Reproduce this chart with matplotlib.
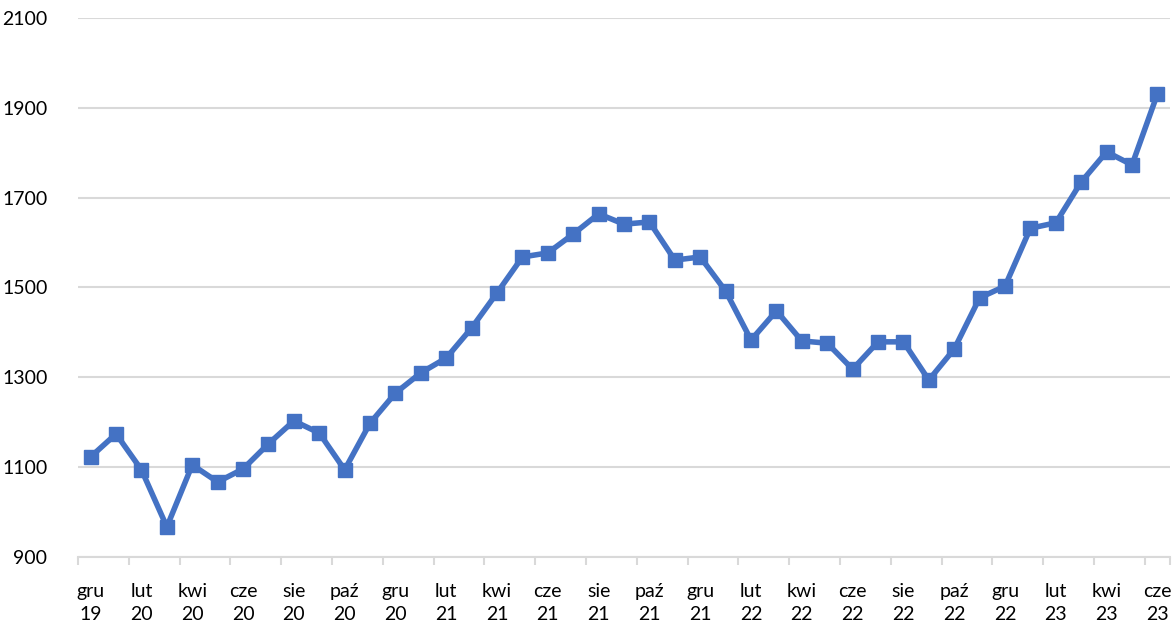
import matplotlib
matplotlib.use('Agg')
import matplotlib.pyplot as plt

# monthly values, gru 19 .. cze 23
values = [1123, 1174, 1094, 967, 1105, 1067, 1096, 1152, 1203, 1176,
          1094, 1198, 1265, 1310, 1343, 1410, 1488, 1568, 1577, 1619,
          1664, 1641, 1646, 1561, 1568, 1492, 1383, 1448, 1381, 1376,
          1318, 1379, 1379, 1294, 1363, 1477, 1503, 1632, 1644, 1735,
          1802, 1773, 1931]
tick_labels = ['gru\n19', 'lut\n20', 'kwi\n20', 'cze\n20', 'sie\n20', 'paź\n20',
               'gru\n20', 'lut\n21', 'kwi\n21', 'cze\n21', 'sie\n21', 'paź\n21',
               'gru\n21', 'lut\n22', 'kwi\n22', 'cze\n22', 'sie\n22', 'paź\n22',
               'gru\n22', 'lut\n23', 'kwi\n23', 'cze\n23']
y_ticks = [900, 1100, 1300, 1500, 1700, 1900, 2100]

plt.rcParams['font.family'] = ['Lato', 'DejaVu Sans']

fig = plt.figure(figsize=(11.76, 6.28), dpi=100)
ax = fig.add_axes([0.0663, 0.1131, 0.9287, 0.8582])

x = list(range(len(values)))
ax.plot(x, values, color='#4472C4', linewidth=4, marker='s',
        markersize=10.5, zorder=3)

ax.set_xlim(-0.5, len(values) - 0.5)
ax.set_ylim(900, 2100)
ax.set_yticks(y_ticks)
ax.set_yticklabels([str(v) for v in y_ticks], fontsize=14)
ax.grid(axis='y', color='#D9D9D9', linewidth=1.5)
ax.set_axisbelow(True)

ax.set_xticks(x[::2])
ax.set_xticklabels(tick_labels, fontsize=14, linespacing=1.4)
ax.set_xticks([i - 0.5 for i in x[::2]] + [len(values) - 0.5], minor=True)
ax.tick_params(axis='x', which='major', length=0, pad=19)
ax.tick_params(axis='x', which='minor', length=6, color='#D9D9D9', width=1.5)
ax.tick_params(axis='y', length=0, pad=22)

for s in ['top', 'right', 'left']:
    ax.spines[s].set_visible(False)
ax.spines['bottom'].set_color('#D9D9D9')
ax.spines['bottom'].set_linewidth(1.5)

fig.savefig('out.png', dpi=100)
plt.close('all')
